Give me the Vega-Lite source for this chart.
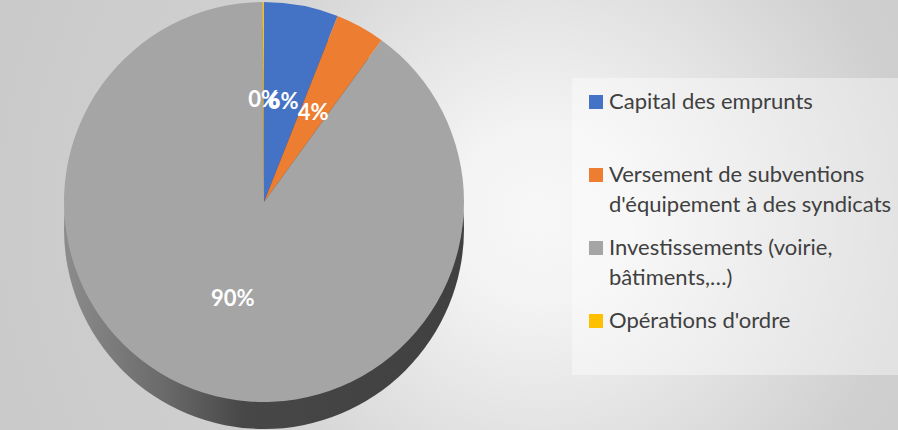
{
  "$schema": "https://vega.github.io/schema/vega-lite/v6.json",
  "padding": 0,
  "spacing": 0,
  "bounds": "flush",
  "background": "#cbcbcb",
  "config": {"view": {"stroke": null}, "font": "Lato"},
  "datasets": {
    "slices": [
      {"i": 1, "category": "Capital des emprunts", "value": 0.06},
      {"i": 2, "category": "Versement de subventions d'équipement à des syndicats", "value": 0.04},
      {"i": 3, "category": "Investissements (voirie, bâtiments,…)", "value": 0.899},
      {"i": 4, "category": "Opérations d'ordre", "value": 0.001}
    ]
  },
  "hconcat": [
    {
      "width": 528,
      "height": 430,
      "view": {
        "stroke": null,
        "fill": {
          "gradient": "radial",
          "x1": 1.0227, "y1": 0.5, "r1": 0,
          "x2": 1.0227, "y2": 0.5, "r2": 1.1364,
          "stops": [
            {"offset": 0, "color": "#f7f7f7"},
            {"offset": 0.15, "color": "#f3f3f3"},
            {"offset": 0.4, "color": "#e0e0e0"},
            {"offset": 0.62, "color": "#cfcfcf"},
            {"offset": 1, "color": "#c9c9c9"}
          ]
        }
      },
      "data": {"name": "slices"},
      "layer": [
        {
          "transform": [{"aggregate": [{"op": "sum", "field": "value", "as": "total"}]}],
          "mark": {
            "type": "arc",
            "outerRadius": 200,
            "yOffset": 14,
            "strokeWidth": 0,
            "color": {
              "gradient": "linear",
              "x1": 0, "y1": 0, "x2": 1, "y2": 0,
              "stops": [
                {"offset": 0, "color": "#8c8c8c"},
                {"offset": 0.25, "color": "#6a6a6a"},
                {"offset": 0.45, "color": "#474747"},
                {"offset": 1, "color": "#404040"}
              ]
            }
          },
          "encoding": {"theta": {"field": "total", "type": "quantitative"}}
        },
        {
          "mark": {"type": "arc", "outerRadius": 200, "yOffset": -13, "strokeWidth": 0},
          "encoding": {
            "theta": {"field": "value", "type": "quantitative", "stack": true},
            "order": {"field": "i", "type": "quantitative"},
            "color": {
              "field": "category",
              "type": "nominal",
              "scale": {
                "domain": [
                  "Capital des emprunts",
                  "Versement de subventions d'équipement à des syndicats",
                  "Investissements (voirie, bâtiments,…)",
                  "Opérations d'ordre"
                ],
                "range": ["#4472C4", "#ED7D31", "#A5A5A5", "#FFC000"]
              },
              "legend": {
                "orient": "none",
                "legendX": 572,
                "legendY": 78,
                "title": null,
                "padding": 13,
                "fillColor": "rgba(255,255,255,0.4)",
                "strokeColor": null,
                "symbolType": "square",
                "symbolSize": 196,
                "symbolStrokeWidth": 0,
                "labelOffset": 2,
                "labelFont": "Lato",
                "labelFontSize": 22,
                "labelColor": "#404040",
                "labelLimit": 400,
                "labelBaseline": "top",
                "rowPadding": 21,
                "labelExpr": "datum.label == 'Capital des emprunts' ? ['Capital des emprunts', ''] : datum.label == 'Opérations d\\'ordre' ? ['Opérations d\\'ordre', ''] : datum.label == 'Investissements (voirie, bâtiments,…)' ? ['Investissements (voirie,', 'bâtiments,…)'] : ['Versement de subventions', 'd\\'équipement à des syndicats']",
                "encode": {
                  "labels": {"update": {"lineHeight": {"value": 30}, "dy": {"value": -10}}}
                }
              }
            }
          }
        },
        {
          "mark": {"type": "text", "radius": 102, "yOffset": -13, "font": "Lato", "fontWeight": "bold", "fontSize": 22, "color": "white"},
          "encoding": {
            "theta": {"field": "value", "type": "quantitative", "stack": true},
            "order": {"field": "i", "type": "quantitative"},
            "text": {"field": "value", "type": "quantitative", "format": ".0%"}
          }
        }
      ]
    },
    {
      "width": 370,
      "height": 430,
      "view": {
        "stroke": null,
        "fill": {
          "gradient": "radial",
          "x1": 0.0977, "y1": 0.5, "r1": 0,
          "x2": 0.0977, "y2": 0.5, "r2": 1.3953,
          "stops": [
            {"offset": 0, "color": "#f7f7f7"},
            {"offset": 0.15, "color": "#f3f3f3"},
            {"offset": 0.4, "color": "#e0e0e0"},
            {"offset": 0.62, "color": "#cfcfcf"},
            {"offset": 1, "color": "#c9c9c9"}
          ]
        }
      },
      "data": {"name": "slices"},
      "mark": {"type": "point", "opacity": 0},
      "encoding": {}
    }
  ]
}
